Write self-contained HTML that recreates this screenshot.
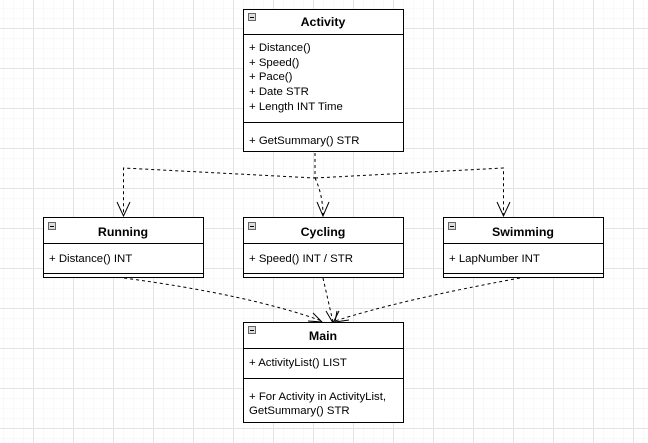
<!DOCTYPE html>
<html><head><meta charset="utf-8"><style>
html,body{margin:0;padding:0;background:#fff;}
svg{display:block;}
text{font-family:"Liberation Sans",Arial,sans-serif;font-size:11.4px;fill:#000;}
.b{font-weight:bold;font-size:12.4px;}
</style></head><body>
<svg width="648" height="443" xmlns="http://www.w3.org/2000/svg">
<defs>
<pattern id="minor" x="3" y="8" width="10" height="10" patternUnits="userSpaceOnUse">
<path d="M0 0H10M0 0V10" stroke="#f3f3f3" stroke-width="1" fill="none"/>
</pattern>
<pattern id="major" x="33" y="28" width="40" height="40" patternUnits="userSpaceOnUse">
<path d="M0 0.5H40M0.5 0V40" stroke="#e3e3e3" stroke-width="1" fill="none"/>
</pattern>
</defs>
<rect width="648" height="443" fill="#fff"/>
<rect width="648" height="443" fill="url(#minor)"/>
<rect width="648" height="443" fill="url(#major)"/>

<g fill="none" stroke="#000" stroke-width="1" stroke-dasharray="3,3">
<path d="M315 153V178L123.5 168V216"/>
<path d="M315 178L503.5 168V216"/>
<path d="M315 178Q323 195 323 216"/>
<path d="M124 278Q250 295 322 321"/>
<path d="M323 278L333 322"/>
<path d="M520 278Q400 300 335 321"/>
</g>
<g fill="none" stroke="#000" stroke-width="1">
<path d="M117 202L123.5 216L130 202"/>
<path d="M317 202L323 216L329 202"/>
<path d="M497 202L503.5 216L510 202"/>
<path d="M313 313L322 322L308 321"/>
<path d="M326 311L333 323L339 311"/>
<path d="M337 311L335 322L349 320"/>
</g>

<g fill="#fff" stroke="#000" stroke-width="1">
<rect x="243.5" y="9.5" width="160" height="142"/>
<rect x="43.5" y="217.5" width="160" height="60"/>
<rect x="243.5" y="217.5" width="160" height="60"/>
<rect x="443.5" y="217.5" width="160" height="60"/>
<rect x="243.5" y="322.5" width="160" height="100"/>
</g>
<g stroke="#000" stroke-width="1">
<path d="M243 34.5H404M243 122.5H404"/>
<path d="M43 243.5H204M43 273.5H204"/>
<path d="M243 243.5H404M243 273.5H404"/>
<path d="M443 243.5H604M443 273.5H604"/>
<path d="M243 348.5H404M243 378.5H404"/>
</g>
<g fill="#ddd" stroke="#666" stroke-width="1">
<rect x="248.5" y="13.5" width="7" height="7"/>
<rect x="48.5" y="222.5" width="7" height="7"/>
<rect x="248.5" y="222.5" width="7" height="7"/>
<rect x="448.5" y="222.5" width="7" height="7"/>
<rect x="248.5" y="326.5" width="7" height="7"/>
</g>
<g stroke="#000" stroke-width="1">
<path d="M250 17.5H254M50 226.5H54M250 226.5H254M450 226.5H454M250 330.5H254"/>
</g>

<text class="b" x="323" y="26" text-anchor="middle">Activity</text>
<text x="249" y="51">+ Distance()</text>
<text x="249" y="66">+ Speed()</text>
<text x="249" y="80">+ Pace()</text>
<text x="249" y="95">+ Date STR</text>
<text x="249" y="110">+ Length INT Time</text>
<text x="249" y="144">+ GetSummary() STR</text>

<text class="b" x="123" y="236" text-anchor="middle">Running</text>
<text x="49" y="262">+ Distance() INT</text>
<text class="b" x="323" y="236" text-anchor="middle">Cycling</text>
<text x="249" y="262">+ Speed() INT / STR</text>
<text class="b" x="523" y="236" text-anchor="middle">Swimming</text>
<text x="449" y="262">+ LapNumber INT</text>

<text class="b" x="323" y="340" text-anchor="middle">Main</text>
<text x="249" y="366">+ ActivityList() LIST</text>
<text x="249" y="400">+ For Activity in ActivityList,</text>
<text x="249" y="414">GetSummary() STR</text>
</svg>
</body></html>
